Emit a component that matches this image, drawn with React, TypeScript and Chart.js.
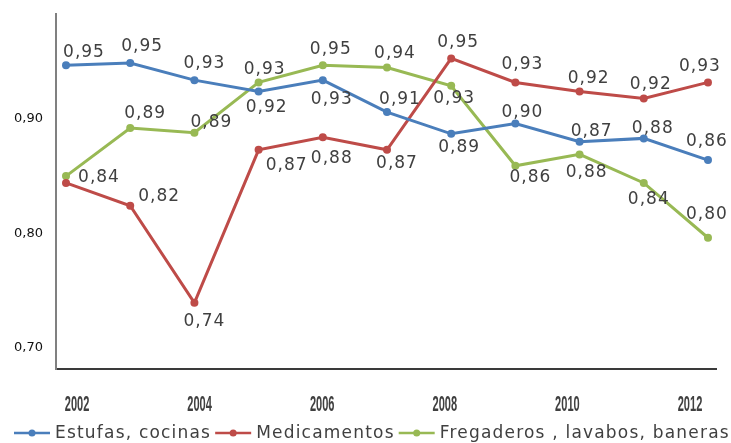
import React, { useEffect, useRef } from "react";
import { Chart, registerables } from "chart.js";

Chart.register(...registerables);

const years = [2002, 2003, 2004, 2005, 2006, 2007, 2008, 2009, 2010, 2011, 2012];
const xTickYears = [2002, 2004, 2006, 2008, 2010, 2012];
const yTicks = [0.7, 0.8, 0.9];

const seriesNames = ["Estufas, cocinas", "Medicamentos", "Fregaderos , lavabos, baneras"];

const estufas = [0.947, 0.949, 0.934, 0.924, 0.934, 0.906, 0.887, 0.896, 0.88, 0.883, 0.864];
const medicamentos = [0.844, 0.824, 0.739, 0.873, 0.884, 0.873, 0.953, 0.932, 0.924, 0.918, 0.932];
const fregaderos = [0.85, 0.892, 0.888, 0.932, 0.947, 0.945, 0.929, 0.859, 0.869, 0.844, 0.796];

const estufasLabels = ["0,95", "0,95", "0,93", "0,92", "0,93", "0,91", "0,89", "0,90", "0,87", "0,88", "0,86"];
const medicamentosLabels = ["0,84", "0,82", "0,74", "0,87", "0,88", "0,87", "0,95", "0,93", "0,92", "0,92", "0,93"];
const fregaderosLabels = ["", "0,89", "0,89", "0,93", "0,95", "0,94", "0,93", "0,86", "0,88", "0,84", "0,80"];

// label placement relative to each point (style, not data)
const estufasLabelOffsets = [[18, -13], [12, -16], [10, -17], [8, 16], [9, 19], [13, -13], [8, 14], [7, -11], [12, -10], [9, -10], [-1, -19]];
const medicamentosLabelOffsets = [[33, -5], [29, -9], [10, 19], [28, 16], [9, 21], [10, 14], [7, -16], [7, -18], [9, -13], [7, -14], [-8, -16]];
const fregaderosLabelOffsets = [[0, 0], [15, -15], [17, -10], [6, -13], [8, -16], [8, -14], [3, 13], [15, 12], [7, 18], [5, 17], [-1, -23]];

const colors = ["#4A7EBB", "#BE4B48", "#98B954"];
const seriesValues = [estufas, medicamentos, fregaderos];
const seriesLabels = [estufasLabels, medicamentosLabels, fregaderosLabels];
const seriesOffsets = [estufasLabelOffsets, medicamentosLabelOffsets, fregaderosLabelOffsets];

const dataLabelPlugin = {
  id: "dataLabels",
  afterDatasetsDraw(chart: any) {
    const ctx = chart.ctx;
    ctx.save();
    ctx.font = '17px "DejaVu Sans"';
    (ctx as any).letterSpacing = "1px";
    ctx.fillStyle = "#404040";
    ctx.textAlign = "center";
    ctx.textBaseline = "middle";
    chart.data.datasets.forEach((_ds: any, i: number) => {
      const meta = chart.getDatasetMeta(i);
      const labels = seriesLabels[i];
      const offs = seriesOffsets[i];
      meta.data.forEach((pt: any, j: number) => {
        if (!labels[j]) return;
        ctx.fillText(labels[j], pt.x + offs[j][0], pt.y + offs[j][1]);
      });
    });
    ctx.restore();
  },
};

const xLabelPlugin = {
  id: "xLabels",
  afterDraw(chart: any) {
    const ctx = chart.ctx;
    const sc = chart.scales.x2;
    ctx.save();
    ctx.font = 'bold 13px "Liberation Sans"';
    ctx.fillStyle = "#404040";
    ctx.textAlign = "center";
    ctx.textBaseline = "middle";
    sc.ticks.forEach((t: any) => {
      const px = sc.getPixelForValue(t.value);
      const py = chart.chartArea.bottom + 36;
      ctx.save();
      ctx.translate(px, py);
      ctx.scale(0.85, 1.75);
      ctx.fillText(String(t.value), 0, 0);
      ctx.restore();
    });
    ctx.restore();
  },
};

const legendPlugin = {
  id: "customLegend",
  afterDraw(chart: any) {
    const ctx = chart.ctx;
    ctx.save();
    ctx.font = '17px "DejaVu Sans"';
    (ctx as any).letterSpacing = "1.2px";
    ctx.textBaseline = "middle";
    ctx.textAlign = "left";
    const cy = 433;
    let x = 14;
    seriesNames.forEach((name, i) => {
      ctx.strokeStyle = colors[i];
      ctx.lineWidth = 2.5;
      ctx.beginPath();
      ctx.moveTo(x, cy);
      ctx.lineTo(x + 36, cy);
      ctx.stroke();
      ctx.fillStyle = colors[i];
      ctx.beginPath();
      ctx.arc(x + 18, cy, 3.5, 0, Math.PI * 2);
      ctx.fill();
      ctx.fillStyle = "#404040";
      ctx.fillText(name, x + 41, cy + 1);
      x += 41 + ctx.measureText(name).width + 4;
    });
    ctx.restore();
  },
};

export default function App() {
  const ref = useRef<HTMLCanvasElement | null>(null);
  useEffect(() => {
    if (!ref.current) return;
    const chart = new Chart(ref.current, {
      type: "line",
      data: {
        datasets: seriesValues.map((vals, i) => ({
          label: seriesNames[i],
          data: years.map((y, j) => ({ x: y, y: vals[j] })),
          borderColor: colors[i],
          backgroundColor: colors[i],
          borderWidth: 3,
          pointRadius: 4,
          pointBorderWidth: 0,
          pointBackgroundColor: colors[i],
          tension: 0,
          xAxisID: "x",
          yAxisID: "y",
        })),
      },
      options: {
        animation: false,
        responsive: false,
        layout: { padding: { left: 0, right: 15, top: 14, bottom: 24 } },
        plugins: { legend: { display: false }, tooltip: { enabled: false } },
        scales: {
          x: {
            type: "linear",
            display: false,
            min: 2001.844,
            max: 2012.125,
          },
          x2: {
            type: "linear",
            position: "bottom",
            min: 2001.657,
            max: 2012.424,
            grid: { display: false, drawTicks: false },
            border: { display: true, color: "#3a3a3a", width: 2 },
            ticks: { display: false },
            afterBuildTicks: (s: any) => {
              s.ticks = xTickYears.map((v) => ({ value: v }));
            },
            afterFit: (s: any) => {
              s.height = 50;
              s.paddingLeft = 0;
              s.paddingRight = 0;
            },
          },
          y: {
            type: "linear",
            min: 0.6811,
            max: 0.9919,
            grid: { display: false, drawTicks: false },
            border: { display: true, color: "#808080", width: 2 },
            afterBuildTicks: (s: any) => {
              s.ticks = yTicks.map((v) => ({ value: v }));
            },
            afterFit: (s: any) => {
              s.width = 56;
              s.paddingTop = 0;
              s.paddingBottom = 0;
            },
            ticks: {
              padding: 13,
              color: "#111",
              font: { family: "DejaVu Sans", size: 13 },
              callback: (v: any) => Number(v).toFixed(2).replace(".", ","),
            },
          },
        },
      },
      plugins: [dataLabelPlugin, xLabelPlugin, legendPlugin],
    });
    return () => chart.destroy();
  }, []);
  return (
    <div style={{ position: "fixed", left: 0, top: 0, width: 731, height: 443, background: "#fff" }}>
      <canvas ref={ref} width={731} height={443} />
    </div>
  );
}
